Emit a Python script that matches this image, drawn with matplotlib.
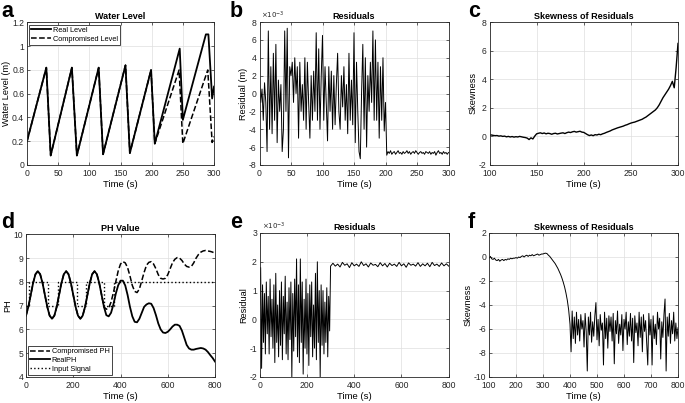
import numpy as np
import matplotlib
matplotlib.use('Agg')
import matplotlib.pyplot as plt
from matplotlib.ticker import FormatStrFormatter

plt.rcParams['font.family'] = ['Liberation Sans', 'DejaVu Sans']
plt.rcParams['axes.unicode_minus'] = False

## panel a - water level (s, m)
lvl_real_t = [0, 31, 38, 72, 80, 115, 122, 158, 165, 199, 205, 245, 250, 287, 291, 297, 300]
lvl_real = [0.2, 0.82, 0.08, 0.82, 0.08, 0.82, 0.09, 0.84, 0.1, 0.8, 0.18, 0.98, 0.38, 1.1, 1.1, 0.56, 0.66]
lvl_comp_t = [0, 31, 38, 72, 80, 115, 122, 158, 165, 199, 205, 244, 250, 290, 297, 300]
lvl_comp = [0.2, 0.82, 0.08, 0.82, 0.08, 0.82, 0.09, 0.84, 0.1, 0.8, 0.18, 0.8, 0.18, 0.8, 0.19, 0.24]

## panel b - residuals (x1e-3), sampled every 2 s
res_b = [1.5, -1, 0.5, -3, 1.2, -1, -6.5, 7, -4, 3, -4.5, 4.5, -3, 5.5, -5.5, 1.5,
         -2, 1, -6.5, -4, 7, -2, 7.3, -7.2, 3, 2, 3.5, -1, 4, 0, 3, -5, 3.5, -2, 1,
         -3, 4, -4, 3.5, -1, -5, 2, -3, 2.5, -2, 6.8, -3, 5, -4, 2, 6.5, -3, 3, -1,
         -5.3, 3, -2, 2.5, -4, 2, -3.5, 1, 4.5, -2, -4, 2, -1.5, 3, -3, 1, -4.5, 4.5,
         -3, 1.5, -3.5, 6.8, -5.5, 3.5, -2, -6.5, -7.3, 0, 5.5, -4, 4, -6, 2, -2,
         3.5, -1, 7, -3, 6, -3, 3.5, -5, 3, -3, 4, -4.2, -1,
         -6.9, -6.5, -6.7, -6.4, -6.8, -6.6, -6.5, -6.8, -6.6, -6.4, -6.7, -6.6,
         -6.8, -6.5, -6.7, -6.6, -6.4, -6.7, -6.5, -6.8, -6.6, -6.5, -6.7, -6.4,
         -6.6, -6.8, -6.6, -6.5, -6.7, -6.6, -6.8, -6.5, -6.6, -6.7, -6.5, -6.8,
         -6.6, -6.7, -6.5, -6.9, -6.6, -6.4, -6.7, -6.6, -6.8, -6.5, -6.7, -6.6,
         -6.8, -6.6]
res_b_t = np.arange(0, 301, 2)

## panel c - skewness, every 2 s from 100 to 300
skew_c = [0.08, 0.1, 0.07, 0.05, 0.06, 0.02, 0.04, 0.0, 0.02, -0.03, 0.0, -0.04,
          -0.01, -0.05, -0.02, -0.04, 0.0, -0.03, -0.06, -0.08, -0.12,
          -0.22, -0.1, -0.18, 0.02, 0.18,
          0.22, 0.25, 0.2, 0.24, 0.18, 0.22, 0.2, 0.15, 0.2, 0.22, 0.17, 0.2, 0.23,
          0.25, 0.2, 0.26, 0.3, 0.27, 0.32, 0.35, 0.3, 0.33, 0.36, 0.3, 0.28,
          0.2, 0.12, 0.06, 0.1, 0.05, 0.12, 0.1, 0.15, 0.12, 0.18,
          0.22, 0.28, 0.33, 0.38, 0.45, 0.5, 0.55, 0.6, 0.64, 0.68, 0.72, 0.78, 0.82,
          0.88, 0.93,
          0.97, 1.0, 1.05, 1.1, 1.15, 1.2, 1.28, 1.35, 1.45, 1.55, 1.65, 1.75, 1.85,
          2.0, 2.2,
          2.45, 2.7, 2.9, 3.1, 3.3, 3.55, 3.85, 3.4, 4.8, 6.5]
skew_c_t = np.arange(100, 301, 2)

## panel d - pH, every 10 s
ph_t = np.arange(0, 801, 10)
ph_real = [6.58, 6.95, 7.45, 7.95, 8.32, 8.45, 8.32, 7.95, 7.45, 6.95, 6.58, 6.45,
           6.58, 6.95, 7.45, 7.95, 8.32, 8.45, 8.32, 7.95, 7.45, 6.95, 6.58, 6.45,
           6.58, 6.95, 7.45, 7.95, 8.32, 8.45, 8.32, 7.95, 7.45, 6.95, 6.6, 6.55,
           6.7, 7.05, 7.5, 7.85, 8.05, 8.05, 7.85, 7.45, 6.95, 6.55, 6.32, 6.3, 6.45,
           6.7, 6.95, 7.05, 7.1, 7.08, 6.9, 6.6, 6.25, 6.0, 5.87, 5.85, 5.9, 6.0,
           6.12, 6.2, 6.2, 6.15, 5.95, 5.65, 5.35, 5.2, 5.15, 5.15, 5.18, 5.2, 5.22,
           5.2, 5.15, 5.05, 4.92, 4.8, 4.65]
ph_comp = [6.58, 6.95, 7.45, 7.95, 8.32, 8.45, 8.32, 7.95, 7.45, 6.95, 6.58, 6.45,
           6.58, 6.95, 7.45, 7.95, 8.32, 8.45, 8.32, 7.95, 7.45, 6.95, 6.58, 6.45,
           6.58, 6.95, 7.45, 7.95, 8.32, 8.45, 8.32, 7.95, 7.45, 6.95, 6.85, 6.9,
           7.15, 7.55, 8.0, 8.45, 8.75, 8.85, 8.8, 8.6, 8.25, 7.85, 7.6, 7.55, 7.7,
           8.05, 8.4, 8.7, 8.82, 8.85, 8.75, 8.55, 8.3, 8.15, 8.12, 8.15, 8.3, 8.55,
           8.8, 8.95, 9.02, 9.0, 8.9, 8.75, 8.65, 8.62, 8.65, 8.8, 9.0, 9.15, 9.25,
           9.3, 9.32, 9.3, 9.28, 9.25, 9.2]
input_t = [0, 12, 95, 137, 214, 254, 332, 372, 800]
input_v = [7, 8, 7, 8, 7, 8, 7, 8, 8]

## panel e - residuals (x1e-3)
res_e1 = [0.5, 1.8, -1.7, 1.2, -0.8, 0.9, -1.2, 1.3, -0.5, 0.8, -1.2, 1.4, -0.6,
          0.7, -1.0, 1.2, -1.5, 1.6, -0.8, 0.5, -1.3, 1.0, -0.9, 1.3, -1.4, 0.8,
          -0.5, 1.5, -1.2, 0.6, -1.4, 1.1, -0.7, 1.3, -2.0, 0.9, -1.1, 1.4, -0.6,
          2.1, -1.3, 1.2, -1.5, 2.1, -0.8, 1.3, -1.9, 0.7, -1.0, 1.4, -1.2, 0.9,
          -1.6, 1.2, -0.6, 1.3, -1.3, 0.5, -1.0, 1.6, -1.4, 2.0, -0.8, 1.0, -2.0,
          1.2, -0.9, 1.0, -1.2, 0.6, -0.8, 1.1, -1.3, 0.8, -0.4]
res_e1_t = np.arange(0, 300, 4)
res_e2 = [1.85, 1.95, 1.85, 1.92, 1.82, 1.98, 1.88, 1.93, 1.8, 1.97, 1.86, 1.92,
          1.84, 2.0, 1.87, 1.93, 1.82, 1.96, 1.88, 1.91, 1.83, 1.97, 1.86, 1.94,
          1.82, 1.95, 1.87, 1.92, 1.84, 1.98, 1.86, 1.93, 1.81, 1.96, 1.88, 1.92,
          1.85, 1.97, 1.84, 1.93, 1.86, 1.95, 1.83, 1.98, 1.87, 1.92, 1.84, 1.96,
          1.86, 1.93, 1.85]
res_e2_t = np.arange(300, 801, 10)

## panel f - skewness
skew_f1 = [-0.1, 0.05, -0.15, -0.2, -0.1, -0.25, -0.3, -0.2, -0.35, -0.25, -0.2,
           -0.3, -0.2, -0.25, -0.15, -0.2, -0.1, -0.15, -0.1, -0.1,
           -0.05, -0.1, 0.0, -0.05, 0.05, 0.1, 0.0, 0.1, 0.15, 0.05, 0.15, 0.1, 0.2,
           0.1, 0.15, 0.2, 0.25, 0.15, 0.2, 0.25,
           0.25, 0.3, 0.32, 0.28, 0.15, 0.05, -0.1, -0.25, -0.4, -0.55, -0.75,
           -0.95, -1.2, -1.45, -1.75, -2.1, -2.5, -3.0, -3.6, -4.4]
skew_f1_t = np.arange(100, 400, 5)
skew_f2 = [-5.6, -7.9, -4.5, -6.8, -5.0, -7.2, -4.6, -6.5, -5.2, -7.0, -4.8, -6.0,
           -5.3, -7.5, -4.7, -6.2, -9.5, -5.0, -6.5, -4.6, -7.1, -5.4, -6.6, -4.9,
           -3.8, -6.9, -5.2, -7.4, -4.8, -6.1, -5.5, -9.0, -4.6, -6.8, -5.1, -7.6,
           -4.9, -6.2, -5.0, -7.0, -4.7, -8.9, -5.3, -6.4, -4.5, -7.2, -5.6, -6.5,
           -4.8, -7.8, -5.2, -6.0, -4.6, -7.3, -5.4, -6.6, -4.7, -7.0, -5.1, -8.8,
           -4.9, -6.3, -5.5, -7.4, -4.6, -6.7, -5.0, -7.9, -4.8, -6.2, -5.3, -7.1,
           -9.0, -4.7, -6.5, -5.2, -9.0, -4.9, -6.8, -5.6, -7.3, -4.6, -6.0, -5.1,
           -8.5, -5.4, -6.7, -4.8, -3.5, -9.5, -5.0, -6.6, -4.7, -7.2, -5.3, -6.4,
           -4.6, -7.0, -5.5, -6.8, -5.9]
skew_f2_t = np.arange(400, 801, 4)

W, H = 685, 403
fig = plt.figure(figsize=(W / 100, H / 100), dpi=100)

def px_axes(l, r, t, b):
    return fig.add_axes([l / W, 1 - b / H, (r - l) / W, (b - t) / H])

def style(ax, xlim, ylim, xticks, yticks, title, ylabel):
    ax.set_xlim(xlim)
    ax.set_ylim(ylim)
    ax.set_xticks(xticks)
    ax.set_yticks(yticks)
    ax.yaxis.set_major_formatter(FormatStrFormatter('%g'))
    ax.grid(True, color='#dedede', linewidth=0.5)
    ax.set_axisbelow(True)
    for s in ax.spines.values():
        s.set_linewidth(0.6)
        s.set_color('#262626')
    ax.tick_params(direction='in', length=2, width=0.5, labelsize=6.2,
                   colors='#262626', pad=2, top=True, right=True)
    ax.tick_params(axis='x', pad=3)
    ax.set_title(title, fontsize=6.5, fontweight='bold', pad=2.5)
    ax.set_xlabel('Time (s)', fontsize=6.8, labelpad=1.5)
    ax.set_ylabel(ylabel, fontsize=6.6, labelpad=1)

def letter(x, y, s):
    fig.text(x / W, 1 - y / H, s, fontsize=15.5, fontweight='bold', va='baseline')

# a
ax = px_axes(27, 214, 22.5, 165)
ax.plot(lvl_real_t, lvl_real, 'k-', lw=1.3, label='Real Level')
ax.plot(lvl_comp_t, lvl_comp, 'k--', lw=1.1, label='Compromised Level')
style(ax, (0, 300), (0, 1.2), range(0, 301, 50), np.arange(0, 1.21, 0.2),
      'Water Level', 'Water Level (m)')
leg = ax.legend(loc='upper left', fontsize=5.3, fancybox=False, framealpha=1,
                edgecolor='#262626', handlelength=2.6, borderaxespad=0.3,
                labelspacing=0.2, borderpad=0.3, handletextpad=0.3)
leg.get_frame().set_linewidth(0.6)
letter(1, 17, 'a')

# b
ax = px_axes(259.5, 448.5, 22, 165)
ax.plot(res_b_t, res_b, 'k-', lw=0.7)
style(ax, (0, 300), (-8, 8), range(0, 301, 50), range(-8, 9, 2),
      'Residuals', 'Residual (m)')
ax.text(0.01, 1.01, r'$\times10^{-3}$', transform=ax.transAxes, fontsize=5,
        color='#262626', va='bottom')
letter(230, 17, 'b')

# c
ax = px_axes(489.5, 678, 22, 165)
ax.plot(skew_c_t, skew_c, 'k-', lw=1.0)
style(ax, (100, 300), (-2, 8), range(100, 301, 50), range(-2, 9, 2),
      'Skewness of Residuals', 'Skewness')
letter(468, 17, 'c')

# d
ax = px_axes(26, 215, 234.3, 377)
ax.plot(ph_t, ph_comp, 'k--', lw=1.1, label='Compromised PH')
ax.plot(ph_t, ph_real, 'k-', lw=1.3, label='RealPH')
ax.step(input_t, input_v, 'k:', lw=1.0, where='post', label='Input Signal')
style(ax, (0, 800), (4, 10), range(0, 801, 200), range(4, 11),
      'PH Value', 'PH')
leg = ax.legend(loc='lower left', fontsize=5.3, fancybox=False, framealpha=1,
                edgecolor='#262626', handlelength=2.6, borderaxespad=0.3,
                labelspacing=0.2, borderpad=0.3, handletextpad=0.3)
leg.get_frame().set_linewidth(0.6)
letter(1, 228, 'd')

# e
ax = px_axes(259.7, 448.7, 233, 377)
ax.plot(np.concatenate([res_e1_t, res_e2_t]), res_e1 + res_e2, 'k-', lw=0.7)
style(ax, (0, 800), (-2, 3), range(0, 801, 200), range(-2, 4),
      'Residuals', 'Residual')
ax.text(0.01, 1.01, r'$\times10^{-3}$', transform=ax.transAxes, fontsize=5,
        color='#262626', va='bottom')
letter(230, 228, 'e')

# f
ax = px_axes(489, 678, 233, 377)
ax.plot(np.concatenate([skew_f1_t, skew_f2_t]), skew_f1 + skew_f2, 'k-', lw=0.7)
style(ax, (100, 800), (-10, 2), range(100, 801, 100), range(-10, 3, 2),
      'Skewness of Residuals', 'Skewness')
letter(468, 228, 'f')

fig.savefig('out.png', dpi=100)
